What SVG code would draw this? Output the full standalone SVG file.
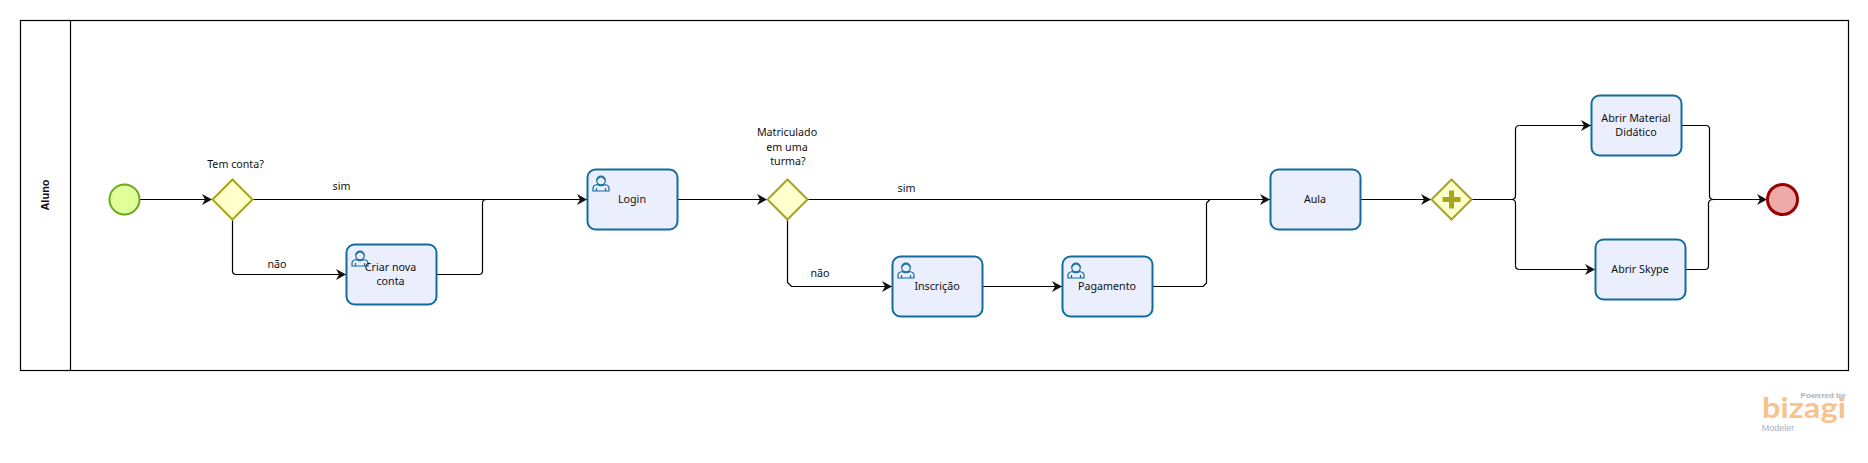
<svg xmlns="http://www.w3.org/2000/svg" width="1868" height="463" viewBox="0 0 1868 463">
<style>
text{font-family:"Noto Sans","DejaVu Sans",sans-serif;font-size:10.7px;fill:#111;text-anchor:middle}
.task{fill:#ebeefd;stroke:#136c9e;stroke-width:2}
.gw{fill:#ffffcc;stroke:#a8a51f;stroke-width:2}
.flow{fill:none;stroke:#000;stroke-width:1.2;marker-end:url(#arrow)}
.plain{fill:none;stroke:#000;stroke-width:1.2}
.lane{fill:none;stroke:#000;stroke-width:1.2}
.ic{fill:none;stroke:#136c9e;stroke-width:1.2}
.lg{font-family:"Liberation Sans",sans-serif;fill:#a9b3bb}
</style>
<defs>
<marker id="arrow" markerUnits="userSpaceOnUse" markerWidth="12" markerHeight="12" refX="10" refY="6" orient="auto"><path d="M0 0.5L10 6L0 11.5L3 6Z" fill="#111"/></marker>
<g id="user"><circle class="ic" cx="9" cy="5.500" r="4.300"/><path class="ic" d="M4.700 5Q9 -1 13.300 5M1 16V13Q1 10.500 5 9.500Q9 12 13 9.500Q17 10.500 17 13V16ZM4.500 16V13M13.500 16V13"/></g>
</defs>
<rect width="1868" height="463" fill="#fff"/>
<g id="pool">
<rect class="lane" x="20.500" y="20.500" width="1828" height="350"/>
<path class="lane" d="M70.500 20.500V370.500"/>
<text transform="translate(49,195) rotate(-90)" style="font-weight:700;font-size:11px;font-family:'Liberation Sans',sans-serif">Aluno</text>
</g>
<g id="connectors">
<path class="flow" d="M139 199.500H212"/>
<path class="flow" d="M252.500 199.500H587"/>
<path class="flow" d="M232.500 219.500V270.500Q232.500 274.500 236.500 274.500H346"/>
<path class="plain" d="M436.500 274.500H479Q482.500 274.500 482.500 271V203Q482.500 199.500 486.500 199.500"/>
<path class="flow" d="M677.500 199.500H767"/>
<path class="flow" d="M807.500 199.500H1270"/>
<path class="flow" d="M787.500 219.500V282.500L791.500 286.500H892"/>
<path class="flow" d="M982.500 286.500H1062"/>
<path class="plain" d="M1152.500 286.500H1203L1206.500 283V203L1210 199.500"/>
<path class="flow" d="M1360.500 199.500H1431"/>
<path class="plain" d="M1472 199.500H1511.500Q1515.500 199.500 1515.500 195.500V129.500Q1515.500 125.500 1519.500 125.500"/>
<path class="flow" d="M1519.500 125.500H1591"/>
<path class="plain" d="M1511.500 199.500Q1515.500 199.500 1515.500 203.500V265.500Q1515.500 269.500 1519.500 269.500"/>
<path class="flow" d="M1519.500 269.500H1595"/>
<path class="plain" d="M1681.500 125.500H1706Q1709.500 125.500 1709.500 129V195.500Q1709.500 199.500 1713.500 199.500"/>
<path class="plain" d="M1685.500 269.500H1705Q1708.500 269.500 1708.500 266V203.500Q1708.500 199.500 1713.500 199.500"/>
<path class="flow" d="M1713 199.500H1767"/>
</g>
<g id="start"><circle cx="124.500" cy="199.500" r="15" fill="#e1ff99" stroke="#6aa820" stroke-width="2"/></g>
<g id="gw1"><path class="gw" d="M232.500 179.500L252.500 199.500L232.500 219.500L212.500 199.500Z"/><text x="235.500" y="168">Tem conta?</text></g>
<g id="label-sim1"><text x="341.500" y="190">sim</text></g>
<g id="label-nao1"><text x="277" y="268">não</text></g>
<g id="task-criar"><rect class="task" x="346.500" y="244.500" width="90" height="60" rx="8"/><use href="#user" x="351" y="250"/><text x="390.500" y="271">Criar nova</text><text x="390.500" y="285">conta</text></g>
<g id="task-login"><rect class="task" x="587.500" y="169.500" width="90" height="60" rx="8"/><use href="#user" x="592" y="175"/><text x="632" y="203">Login</text></g>
<g id="gw2"><path class="gw" d="M787.500 179.500L807.500 199.500L787.500 219.500L767.500 199.500Z"/><text x="787" y="136">Matriculado</text><text x="787" y="151">em uma</text><text x="788" y="165">turma?</text></g>
<g id="label-sim2"><text x="906.500" y="192">sim</text></g>
<g id="label-nao2"><text x="820" y="277">não</text></g>
<g id="task-inscricao"><rect class="task" x="892.500" y="256.500" width="90" height="60" rx="8"/><use href="#user" x="897" y="262"/><text x="937" y="290">Inscrição</text></g>
<g id="task-pagamento"><rect class="task" x="1062.500" y="256.500" width="90" height="60" rx="8"/><use href="#user" x="1067" y="262"/><text x="1107" y="290">Pagamento</text></g>
<g id="task-aula"><rect class="task" x="1270.500" y="169.500" width="90" height="60" rx="8"/><text x="1315" y="203">Aula</text></g>
<g id="gw3"><path class="gw" d="M1451.500 179.500L1471.500 199.500L1451.500 219.500L1431.500 199.500Z"/><path d="M1449 190.500h5v6.500h6.500v5h-6.500v6.500h-5v-6.500h-6.500v-5h6.500Z" fill="#a8a51f"/></g>
<g id="task-material"><rect class="task" x="1591.500" y="95.500" width="90" height="60" rx="8"/><text x="1636" y="122">Abrir Material</text><text x="1636" y="136">Didático</text></g>
<g id="task-skype"><rect class="task" x="1595.500" y="239.500" width="90" height="60" rx="8"/><text x="1640" y="273">Abrir Skype</text></g>
<g id="end"><circle cx="1782.500" cy="199.500" r="15" fill="#eea9a9" stroke="#990000" stroke-width="3"/></g>
<g id="logo">
<text class="lg" x="1823" y="398" style="font-size:8px;font-weight:700">Powered by</text>
<text x="1804" y="418" textLength="84" lengthAdjust="spacingAndGlyphs" style="font-family:Lato,sans-serif;font-size:28px;font-weight:700;fill:#f9c28c">bizagi</text>
<text class="lg" x="1778" y="431" style="font-size:9px">Modeler</text>
</g>
</svg>
